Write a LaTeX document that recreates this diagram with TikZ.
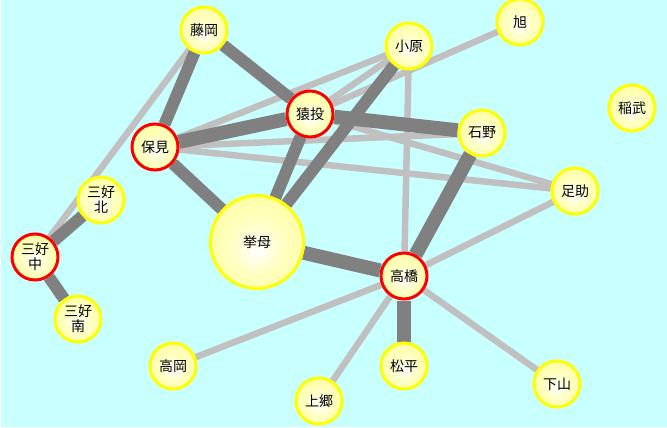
\documentclass[tikz,border=0pt]{standalone}
\usepackage{fontspec}
\setmainfont{Noto Sans CJK JP}
\pgfdeclarelayer{bgl}
\pgfdeclarelayer{edges}
\pgfsetlayers{bgl,edges,main}
\definecolor{bgcyan}{RGB}{200,255,255}
\definecolor{darkedge}{RGB}{128,128,128}
\definecolor{lightedge}{RGB}{192,192,192}
\definecolor{ballout}{RGB}{255,255,115}
\definecolor{ballmid}{RGB}{255,255,195}
\definecolor{ringyellow}{RGB}{255,255,0}
\definecolor{ringred}{RGB}{255,0,0}
\pgfdeclareradialshading{ball}{\pgfpoint{0bp}{-4bp}}{color(0bp)=(white); color(14bp)=(ballmid); color(50bp)=(ballout)}
\tikzset{
  town/.style={circle, shading=ball, draw=ringyellow, line width=3pt,
    minimum size=46pt, inner sep=0pt, align=center,
    font=\fontsize{14}{15}\selectfont, text=black},
  hub/.style={town, draw=ringred},
  bigtown/.style={town, minimum size=93pt},
  heavy/.style={draw=darkedge, line width=14pt},
  medium/.style={draw=darkedge, line width=12pt},
  weak/.style={draw=lightedge, line width=6.5pt}
}
\begin{document}
\begin{tikzpicture}[x=1pt,y=-1pt]
\begin{pgfonlayer}{bgl}
\fill[white] (0,0) rectangle (667,428);
\fill[bgcyan] (1,0) rectangle (667,427);
\end{pgfonlayer}
\useasboundingbox (0,0) rectangle (667,428);
% nodes
\node[town] (fujioka) at (204,30) {藤岡};
\node[town] (asahi) at (520,22) {旭};
\node[town] (obara) at (409,46) {小原};
\node[town] (inabu) at (632,108) {稲武};
\node[hub] (sanage) at (310,114) {猿投};
\node[hub] (homi) at (155,147) {保見};
\node[town] (ishino) at (482,133) {石野};
\node[town] (asuke) at (575,191) {足助};
\node[town] (miyoshikita) at (101,200) {三好\\北};
\node[bigtown] (koromo) at (257,242) {挙母};
\node[hub] (miyoshinaka) at (35,257) {三好\\中};
\node[hub] (takahashi) at (404,276) {高橋};
\node[town] (miyoshiminami) at (78,319) {三好\\南};
\node[town] (takaoka) at (173,366) {高岡};
\node[town] (matsudaira) at (404,366) {松平};
\node[town] (shimoyama) at (557,384) {下山};
\node[town] (kamigo) at (319,401) {上郷};
% edges
\begin{pgfonlayer}{edges}
\draw[weak] (fujioka) -- (miyoshinaka);
\draw[weak] (homi) -- (obara);
\draw[weak] (sanage) -- (obara);
\draw[weak] (sanage) -- (asahi);
\draw[weak] (homi) -- (ishino);
\draw[weak] (homi) -- (asuke);
\draw[weak] (sanage) -- (asuke);
\draw[weak] (obara) -- (takahashi);
\draw[weak] (asuke) -- (takahashi);
\draw[weak] (takahashi) -- (takaoka);
\draw[weak] (takahashi) -- (kamigo);
\draw[weak] (takahashi) -- (shimoyama);
\draw[medium] (fujioka) -- (homi);
\draw[medium] (fujioka) -- (sanage);
\draw[medium] (homi) -- (koromo);
\draw[medium] (sanage) -- (koromo);
\draw[medium] (obara) -- (koromo);
\draw[medium] (miyoshinaka) -- (miyoshikita);
\draw[medium] (miyoshinaka) -- (miyoshiminami);
\draw[heavy] (homi) -- (sanage);
\draw[heavy] (sanage) -- (ishino);
\draw[heavy] (ishino) -- (takahashi);
\draw[heavy] (koromo) -- (takahashi);
\draw[heavy] (takahashi) -- (matsudaira);
\end{pgfonlayer}
\end{tikzpicture}
\end{document}
